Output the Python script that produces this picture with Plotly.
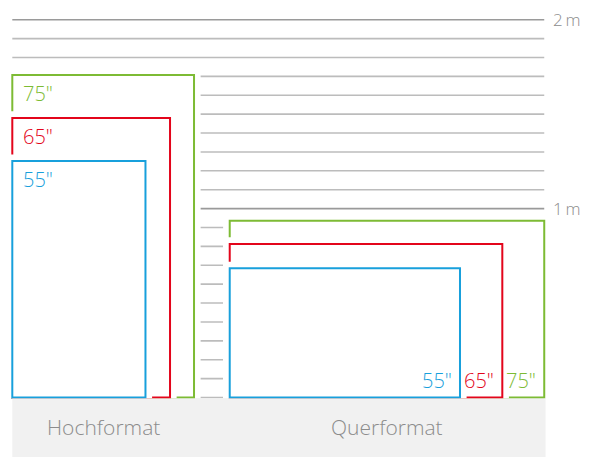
import plotly.graph_objects as go

# ---- data (cm) ----
sizes = ['55"', '65"', '75"']
colors = ["#18a0dc", "#e3051b", "#7dbb34"]
portrait_w = [70.5, 83.5, 96.2]
portrait_h = [125.2, 148.0, 170.7]
landscape_w = [121.9, 144.3, 166.5]
landscape_h = [68.4, 81.3, 93.6]
landscape_x0 = 115.1
grid_cm = [0, 10, 20, 30, 40, 50, 60, 70, 80, 90, 100,
           110, 120, 130, 140, 150, 160, 170, 180, 190, 200]
major_cm = [100, 200]
major_labels = ["1\u2009m", "2\u2009m"]
groups = ["Hochformat", "Querformat"]

PAD = 3.5
FONT = "Open Sans"
GRAY_TXT = "#8c8c8c"

grid_right = landscape_x0 + landscape_w[-1]
shapes = []
# grid lines
for g in grid_cm:
    shapes.append(dict(type="line", xref="x", yref="y", x0=0, x1=grid_right, y0=g, y1=g,
                       line=dict(color="#9a9a9a" if g in major_cm else "#bcbcbc", width=1.6)))

def add_boxes(x0, widths, heights):
    for i in reversed(range(len(widths))):
        shapes.append(dict(type="rect", xref="x", yref="y",
                           x0=x0 - PAD, x1=x0 + widths[i] + PAD, y0=-0.45, y1=heights[i] + PAD,
                           fillcolor="white", line=dict(width=0)))
        shapes.append(dict(type="rect", xref="x", yref="y",
                           x0=x0, x1=x0 + widths[i], y0=0, y1=heights[i],
                           fillcolor="rgba(0,0,0,0)", line=dict(color=colors[i], width=2)))

add_boxes(0, portrait_w, portrait_h)
add_boxes(landscape_x0, landscape_w, landscape_h)

# bottom gray band
shapes.append(dict(type="rect", xref="x", yref="y", x0=0, x1=grid_right + 0.7,
                   y0=-40, y1=-0.5, fillcolor="#f1f1f1", line=dict(width=0)))

annotations = []
for i, s in enumerate(sizes):
    annotations.append(dict(x=4.4, y=portrait_h[i] - 10, xref="x", yref="y", text=s,
                            showarrow=False, xanchor="left", yanchor="middle",
                            font=dict(family=FONT, size=20, color=colors[i], weight=300)))
    annotations.append(dict(x=landscape_x0 + landscape_w[i] - 3.2, y=8.8, xref="x", yref="y", text=s,
                            showarrow=False, xanchor="right", yanchor="middle",
                            font=dict(family=FONT, size=20, color=colors[i], weight=300)))
for v, t in zip(major_cm, major_labels):
    annotations.append(dict(x=grid_right + 3.6, y=v, xref="x", yref="y", text=t,
                            showarrow=False, xanchor="left", yanchor="middle",
                            font=dict(family=FONT, size=17, color=GRAY_TXT, weight=300)))
annotations.append(dict(x=portrait_w[-1] / 2, y=-15.6, xref="x", yref="y", text=groups[0],
                        showarrow=False, xanchor="center", yanchor="middle",
                        font=dict(family=FONT, size=21, color=GRAY_TXT, weight=300)))
annotations.append(dict(x=landscape_x0 + landscape_w[-1] / 2, y=-15.6, xref="x", yref="y", text=groups[1],
                        showarrow=False, xanchor="center", yanchor="middle",
                        font=dict(family=FONT, size=21, color=GRAY_TXT, weight=300)))

# page body has an 8px margin: figure starts at screen pixel 8
S = 1.889
OFF = 8
W, H = 597 - OFF, 457 - OFF
fig = go.Figure()
fig.update_layout(
    width=W, height=H, autosize=False,
    margin=dict(l=0, r=0, t=0, b=0),
    paper_bgcolor="white", plot_bgcolor="white",
    xaxis=dict(range=[(OFF - 12.3) / S, (597 - 12.3) / S], visible=False, fixedrange=True),
    yaxis=dict(range=[(397.5 - 457) / S, (397.5 - OFF) / S], visible=False, fixedrange=True),
    shapes=shapes, annotations=annotations, showlegend=False,
)
fig.write_html("out.html")
